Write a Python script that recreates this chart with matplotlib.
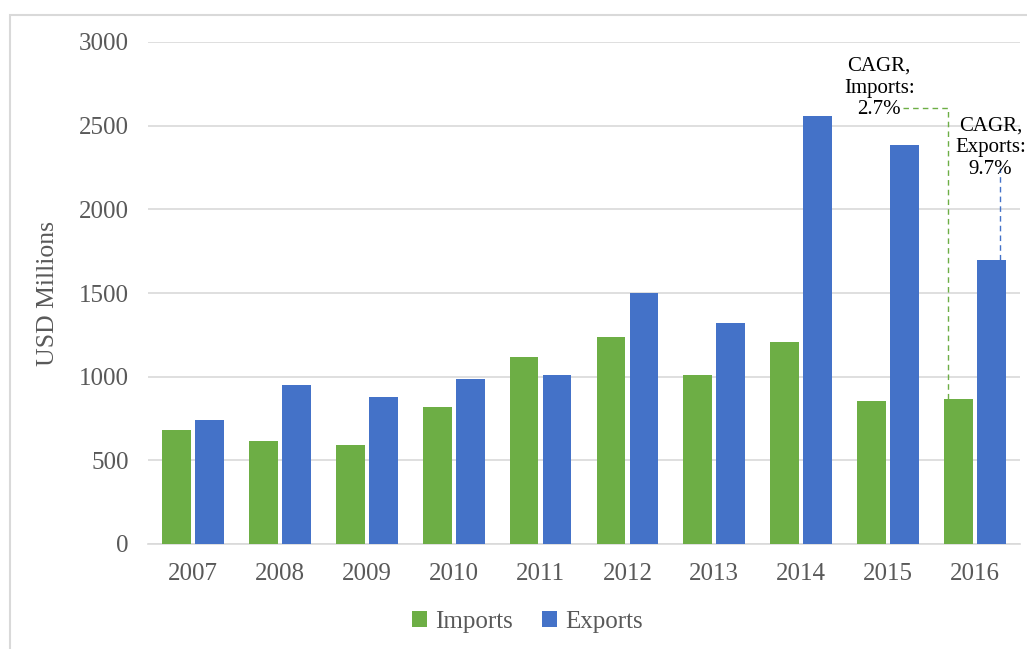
import matplotlib.pyplot as plt
import numpy as np
from matplotlib.patches import Rectangle

years = ["2007", "2008", "2009", "2010", "2011", "2012", "2013", "2014", "2015", "2016"]
imports = [680, 615, 590, 820, 1120, 1235, 1010, 1205, 855, 865]
exports = [740, 950, 880, 985, 1010, 1500, 1320, 2555, 2385, 1700]
yticks = [0, 500, 1000, 1500, 2000, 2500, 3000]

plt.rcParams['font.family'] = ['Liberation Serif', 'DejaVu Serif']

green = "#6DAE45"
blue = "#4472C8"
txt = "#595959"

fig = plt.figure(figsize=(10.27, 6.49), dpi=100)
ax = fig.add_axes([148 / 1027, 1 - 544 / 649, 872 / 1027, 502 / 649])

x = np.arange(len(years))
w = 0.33
ax.bar(x - 0.19, imports, w, color=green, label="Imports", zorder=3)
ax.bar(x + 0.19, exports, w, color=blue, label="Exports", zorder=3)

ax.set_xlim(-0.52, 9.52)
ax.set_ylim(0, 3000)
ax.set_yticks(yticks)
ax.set_xticks(x)
ax.set_xticklabels(years)
ax.tick_params(length=0, labelsize=18, colors=txt, pad=14)
ax.tick_params(axis='y', pad=14)
ax.yaxis.grid(True, color="#D9D9D9", linewidth=1.2, zorder=0)
for s in ["top", "right", "left"]:
    ax.spines[s].set_visible(False)
ax.spines["bottom"].set_color("#D9D9D9")
ax.spines["bottom"].set_linewidth(1.2)
ax.set_ylabel("USD Millions", fontsize=18.5, color=txt, labelpad=14)

# CAGR annotations
xi = 9 - 0.19 - 0.12
ax.plot([xi, xi, 8.17], [imports[9], 2606, 2606], ls=(0, (4, 3)), color=green, lw=1, zorder=4)
xe = 9 + 0.19 + 0.1
ax.plot([xe, xe], [exports[9], 2247], ls=(0, (4, 3)), color=blue, lw=1, zorder=4)
ax.text(7.9, 2725, "CAGR,\nImports:\n2.7%", ha="center", va="center", fontsize=15,
        linespacing=1.2, color="black", zorder=5)
ax.text(9.18, 2367, "CAGR,\nExports:\n9.7%", ha="center", va="center", fontsize=15,
        linespacing=1.2, color="black", zorder=5, clip_on=False)

ax.legend(loc="center", bbox_to_anchor=(0.435, -0.155), ncol=2, frameon=False,
          fontsize=18, handlelength=0.6, handleheight=0.6, handletextpad=0.3,
          columnspacing=1.2, labelcolor=txt)

fig.patches.append(Rectangle((10 / 1027, -0.01), 1.0, 1 - 15 / 649 + 0.01,
                             transform=fig.transFigure, fill=False,
                             edgecolor="#D9D9D9", linewidth=1.5))

fig.savefig("out.png", dpi=100)
